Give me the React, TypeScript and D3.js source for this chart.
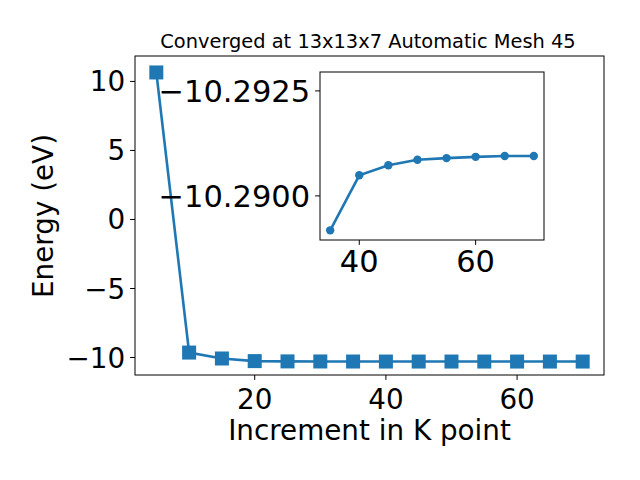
import React, { useEffect, useRef } from 'react';
import * as d3 from 'd3';

// k-point increments and total energies (eV)
const kPoints = [5, 10, 15, 20, 25, 30, 35, 40, 45, 50, 55, 60, 65, 70];
const energies = [10.65, -9.64, -10.07, -10.26, -10.28, -10.285, -10.28918, -10.29049, -10.29073, -10.29086, -10.2909, -10.29093, -10.29095, -10.29095];

// zoomed view of the converged tail
const insetK = [35, 40, 45, 50, 55, 60, 65, 70];
const insetEnergies = [-10.28918, -10.29049, -10.29073, -10.29086, -10.2909, -10.29093, -10.29095, -10.29095];
const insetYTicks = [-10.2925, -10.29];
const insetYLimits = [-10.28895, -10.29295];

const mainXTicks = [20, 40, 60];
const mainYTicks = [-10, -5, 0, 5, 10];
const insetXTicks = [40, 60];

const titleText = 'Converged at 13x13x7 Automatic Mesh 45';
const xLabel = 'Increment in K point';
const yLabel = 'Energy (eV)';

const BLUE = '#1f77b4';
const FONT = 'DejaVu Sans, sans-serif';
const TICK_FS = 27.8;
const INSET_FS = 30.5;

const pad = (ext: number[], f = 0.05) => {
    const span = ext[1] - ext[0];
    return [ext[0] - span * f, ext[1] + span * f];
};
const fmt = (v: number, d: number) => (v < 0 ? '\u2212' : '') + Math.abs(v).toFixed(d);

export default function App() {
    const svgRef = useRef<SVGSVGElement>(null);

    useEffect(() => {
        const svg = d3.select(svgRef.current);
        svg.selectAll('*').remove();

        svg.append('rect').attr('width', 640).attr('height', 480).attr('fill', '#fff');

        // ---------- main axes ----------
        const m = { left: 135, right: 604, top: 56, bottom: 375 };
        const x = d3.scaleLinear().domain(pad(d3.extent(kPoints) as number[])).range([m.left, m.right]);
        const y = d3.scaleLinear().domain(pad(d3.extent(energies) as number[])).range([376, 58]);

        const g = svg.append('g');
        const line = d3.line<number>().x((d, i) => x(kPoints[i])).y(d => y(d));
        g.append('path').datum(energies)
            .attr('fill', 'none').attr('stroke', BLUE).attr('stroke-width', 2.6)
            .attr('d', line);
        const s = 14;
        g.selectAll('rect.pt').data(energies).join('rect')
            .attr('class', 'pt')
            .attr('x', (d, i) => x(kPoints[i]) - s / 2)
            .attr('y', d => y(d) - s / 2)
            .attr('width', s).attr('height', s)
            .attr('fill', BLUE);

        g.append('rect')
            .attr('x', m.left).attr('y', m.top)
            .attr('width', m.right - m.left).attr('height', m.bottom - m.top)
            .attr('fill', 'none').attr('stroke', '#000').attr('stroke-width', 1);

        mainXTicks.forEach(t => {
            g.append('line').attr('x1', x(t)).attr('x2', x(t)).attr('y1', m.bottom).attr('y2', m.bottom + 4.9)
                .attr('stroke', '#000').attr('stroke-width', 1);
            g.append('text').attr('x', x(t)).attr('y', m.bottom + 34)
                .attr('text-anchor', 'middle').attr('font-family', FONT).attr('font-size', TICK_FS)
                .text(fmt(t, 0));
        });
        mainYTicks.forEach(t => {
            g.append('line').attr('x1', m.left - 4.9).attr('x2', m.left).attr('y1', y(t)).attr('y2', y(t))
                .attr('stroke', '#000').attr('stroke-width', 1);
            g.append('text').attr('x', m.left - 9.8).attr('y', y(t)).attr('dy', '0.36em')
                .attr('text-anchor', 'end').attr('font-family', FONT).attr('font-size', TICK_FS)
                .text(fmt(t, 0));
        });

        svg.append('text').attr('x', (m.left + m.right) / 2).attr('y', 440)
            .attr('text-anchor', 'middle').attr('font-family', FONT).attr('font-size', TICK_FS)
            .text(xLabel);
        svg.append('text')
            .attr('transform', `translate(53,216) rotate(-90)`)
            .attr('text-anchor', 'middle').attr('font-family', FONT).attr('font-size', TICK_FS)
            .text(yLabel);
        svg.append('text').attr('x', 368).attr('y', 47.5)
            .attr('text-anchor', 'middle').attr('font-family', FONT).attr('font-size', 19.4)
            .text(titleText);

        // ---------- inset axes ----------
        const n = { left: 320, right: 544, top: 72, bottom: 240 };
        const xi = d3.scaleLinear().domain(pad(d3.extent(insetK) as number[])).range([n.left, n.right]);
        const yi = d3.scaleLinear().domain(insetYLimits).range([n.bottom, n.top]);

        const gi = svg.append('g');
        gi.append('rect')
            .attr('x', n.left).attr('y', n.top)
            .attr('width', n.right - n.left).attr('height', n.bottom - n.top)
            .attr('fill', '#fff');
        const iline = d3.line<number>().x((d, i) => xi(insetK[i])).y(d => yi(d));
        gi.append('path').datum(insetEnergies)
            .attr('fill', 'none').attr('stroke', BLUE).attr('stroke-width', 2.6)
            .attr('d', iline);
        gi.selectAll('circle').data(insetEnergies).join('circle')
            .attr('cx', (d, i) => xi(insetK[i])).attr('cy', d => yi(d))
            .attr('r', 4.2).attr('fill', BLUE);
        gi.append('rect')
            .attr('x', n.left).attr('y', n.top)
            .attr('width', n.right - n.left).attr('height', n.bottom - n.top)
            .attr('fill', 'none').attr('stroke', '#000').attr('stroke-width', 1);

        insetXTicks.forEach(t => {
            gi.append('line').attr('x1', xi(t)).attr('x2', xi(t)).attr('y1', n.bottom).attr('y2', n.bottom + 4.9)
                .attr('stroke', '#000').attr('stroke-width', 1);
            gi.append('text').attr('x', xi(t)).attr('y', n.bottom + 32)
                .attr('text-anchor', 'middle').attr('font-family', FONT).attr('font-size', INSET_FS)
                .text(fmt(t, 0));
        });
        insetYTicks.forEach(t => {
            gi.append('line').attr('x1', n.left - 4.9).attr('x2', n.left).attr('y1', yi(t)).attr('y2', yi(t))
                .attr('stroke', '#000').attr('stroke-width', 1);
            gi.append('text').attr('x', n.left - 9.8).attr('y', yi(t)).attr('dy', '0.36em')
                .attr('text-anchor', 'end').attr('font-family', FONT).attr('font-size', INSET_FS)
                .text(fmt(t, 4));
        });
    }, []);

    return (
        <svg ref={svgRef} width={640} height={480}
            style={{ position: 'absolute', left: 0, top: 0, display: 'block' }} />
    );
}
